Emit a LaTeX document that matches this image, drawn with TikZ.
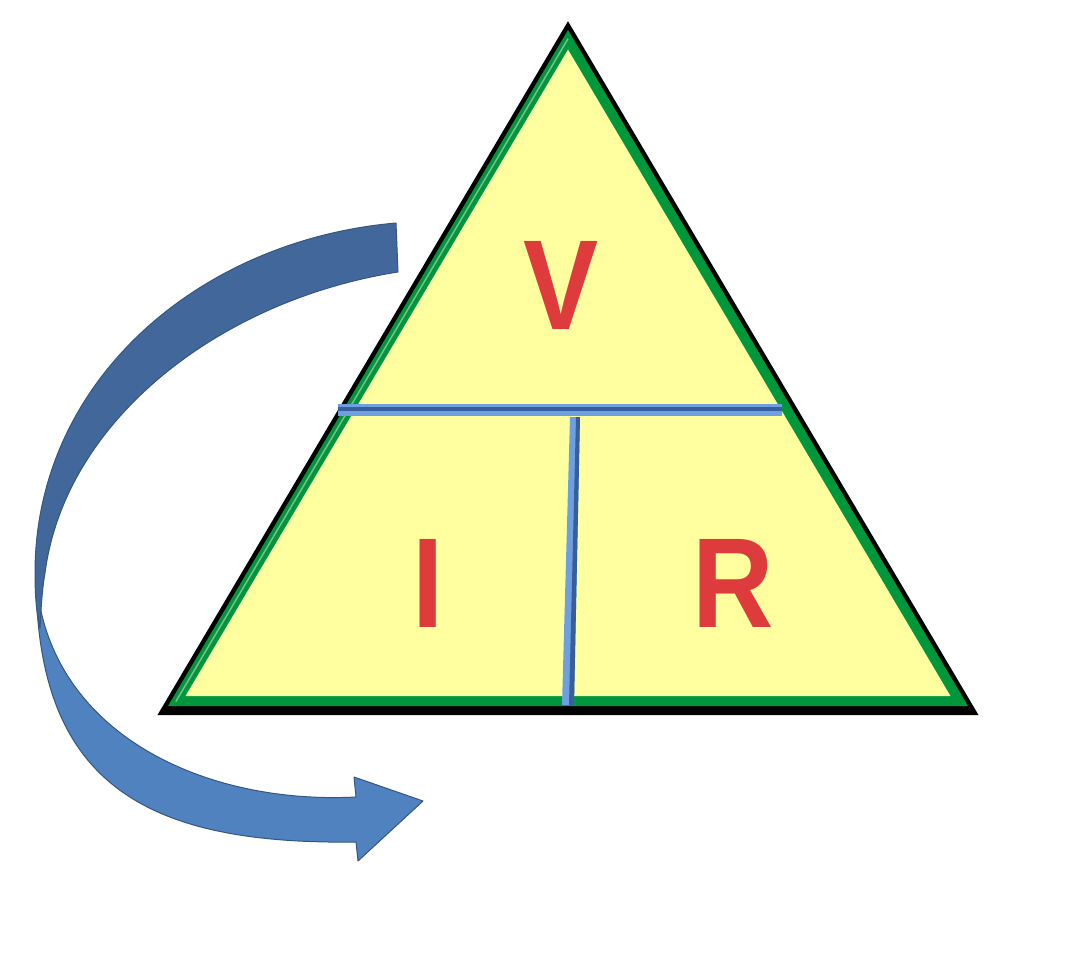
\documentclass[tikz,border=0pt]{standalone}
\usepackage{fontspec}
\setmainfont{Liberation Sans}
\newfontfamily\letterfont{Liberation Sans}[FakeStretch=0.88]
\definecolor{tgreen}{RGB}{0,150,60}
\definecolor{thl}{RGB}{120,190,140}
\definecolor{tyellow}{RGB}{255,255,160}
\definecolor{barlight}{RGB}{110,160,225}
\definecolor{bardark}{RGB}{55,95,155}
\definecolor{arrdark}{RGB}{66,104,155}
\definecolor{arrlight}{RGB}{80,130,192}
\definecolor{arredge}{RGB}{52,86,130}
\definecolor{letterred}{RGB}{222,60,60}
\begin{document}
\begin{tikzpicture}[x=1pt,y=-1pt,
  letter/.style={font=\letterfont\bfseries\fontsize{128}{128}\selectfont, text=letterred, inner sep=0pt, anchor=base},
  arrowpart/.style={draw=arredge, line width=1pt, line join=round}]
\useasboundingbox (0,0) rectangle (1092,976);
% triangle
\fill[black, shift={(0,3)}, scale around={1.0263:(568,477.9)}] (568,30) -- (168,706) -- (968,706) -- cycle;
\fill[tgreen] (568,30) -- (168,706) -- (968,706) -- cycle;
\draw[thl, line width=1.5pt, scale around={0.9803:(568,477.9)}] (568,30) -- (168,706);
\fill[tyellow, scale around={0.9562:(568,477.9)}] (568,30) -- (168,706) -- (968,706) -- cycle;
% dividing bars
\fill[barlight] (338,404) rectangle (782,416);
\fill[bardark] (338,407) rectangle (782,411);
\fill[barlight] (570,417) -- (580,417) -- (574,705) -- (562,705) -- cycle;
\fill[bardark] (576,417) -- (580,417) -- (574,705) -- (569,705) -- cycle;
% letters
\node[letter] (V) at (561,330) {V};
\node[letter] (I) at (428,627) {I};
\node[letter] (R) at (733,627) {R};
% curved arrow, lower (front) part
\fill[arrlight, arrowpart] (36,575) .. controls (36,780) and (140,845) .. (356,842)
  -- (358,861) -- (423,801) -- (354,777) -- (356,797)
  .. controls (200,805) and (45,730) .. (36,575) -- cycle;
% curved arrow, upper (back) part
\fill[arrdark, arrowpart] (396,223) .. controls (200,240) and (35,380) .. (35,573)
  .. controls (35,600) and (37,615) .. (40,628)
  .. controls (41,610) and (42,590) .. (45,573)
  .. controls (65,420) and (220,300) .. (398,272) -- cycle;
\end{tikzpicture}
\end{document}
